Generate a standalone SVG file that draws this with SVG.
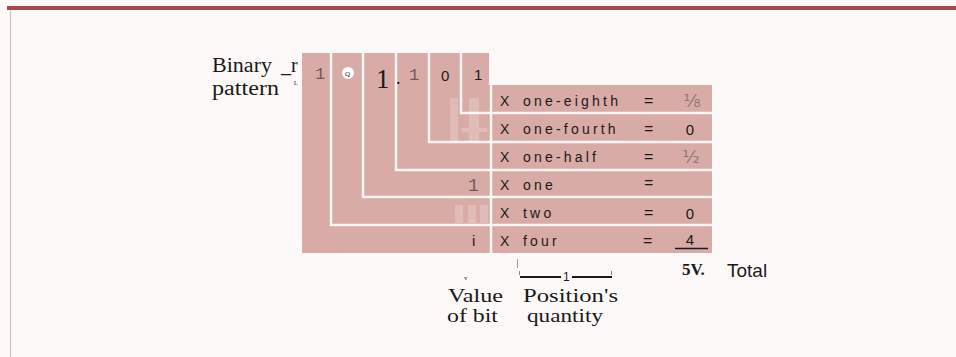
<svg xmlns="http://www.w3.org/2000/svg" width="956" height="357" viewBox="0 0 956 357">
<style>
.serif{font-family:"Liberation Serif","Times New Roman",serif;fill:#1a1a1a}
.sans{font-family:"Liberation Sans",Arial,sans-serif;fill:#1a1a1a}
.row{font-family:"Liberation Sans",Arial,sans-serif;font-size:14px;letter-spacing:3.2px;fill:#1a1a1a}
.eq{font-family:"Liberation Sans",Arial,sans-serif;font-size:16px;fill:#1a1a1a}
.val{font-family:"Liberation Sans",Arial,sans-serif;font-size:15px;fill:#1a1a1a;text-anchor:middle}
.frac{font-family:"DejaVu Sans",sans-serif;font-size:18px;fill:#8a7c7c;text-anchor:middle}
.wl{stroke:#fdf6f6;stroke-width:2.5;fill:none}
.grey{font-family:"Liberation Mono","Courier New",monospace;fill:#6e5a5a}
</style>
<rect width="956" height="357" fill="#fdf9f9"/>
<rect x="7" y="6" width="949" height="4" fill="#a44a48"/>
<line x1="10.5" y1="10" x2="10.5" y2="357" stroke="#d2c2c6" stroke-width="1.2"/>

<g id="panel">
<path d="M302,53 H489 V85 H712 V253 H302 Z" fill="#d9aba7"/>
<g opacity="0.2" fill="#ffffff">
<rect x="450" y="98" width="8" height="44"/>
<rect x="469" y="98" width="10" height="44"/>
<rect x="462" y="128" width="25" height="4"/>
<rect x="455" y="205" width="8" height="18"/>
<rect x="468" y="205" width="8" height="18"/>
<rect x="480" y="205" width="8" height="18"/>
</g>
</g>

<g id="connectors">
<path class="wl" d="M331,53 V225 H712"/>
<path class="wl" d="M363,53 V197 H712"/>
<path class="wl" d="M396,53 V170 H712"/>
<path class="wl" d="M429,53 V142 H712"/>
<path class="wl" d="M461,53 V113 H712"/>
<path class="wl" d="M491,85 V253"/>
</g>

<g id="label-binary">
<text class="serif" x="212" y="72" font-size="20" textLength="60" lengthAdjust="spacingAndGlyphs">Binary</text>
<text class="serif" x="212" y="95" font-size="20" textLength="67" lengthAdjust="spacingAndGlyphs">pattern</text>
<text class="serif" x="281" y="72" font-size="20">_r</text>
<text class="serif" x="294" y="85" font-size="6">L</text>
</g>

<g id="bits">
<text class="grey" x="315" y="79" font-size="17">1</text>
<ellipse cx="348" cy="73" rx="6" ry="6" fill="#ffffff"/>
<text class="serif" x="345" y="76" font-size="7">Q</text>
<text class="serif" x="376" y="88" font-size="27">1</text>
<text class="serif" x="396" y="84" font-size="18">.</text>
<text class="grey" x="409" y="80" font-size="17" fill="#7a6666">1</text>
<text class="sans" x="441" y="81" font-size="15">0</text>
<text class="sans" x="474" y="80" font-size="15">1</text>
</g>

<g id="row-eighth">
<text class="row" x="500" y="106">X</text>
<text class="row" x="523" y="106">one-eighth</text>
<text class="eq" x="644" y="106">=</text>
<text class="frac" x="692" y="107">⅛</text>
</g>
<g id="row-fourth">
<text class="row" x="500" y="134">X</text>
<text class="row" x="523" y="134">one-fourth</text>
<text class="eq" x="644" y="134">=</text>
<text class="val" x="690" y="135">0</text>
</g>
<g id="row-half">
<text class="row" x="500" y="162">X</text>
<text class="row" x="523" y="162">one-half</text>
<text class="eq" x="644" y="162">=</text>
<text class="frac" x="691" y="163">½</text>
</g>
<g id="row-one">
<text class="grey" x="468" y="191" font-size="18" fill="#6e6262">1</text>
<text class="row" x="500" y="190">X</text>
<text class="row" x="523" y="190">one</text>
<text class="eq" x="644" y="188">=</text>
</g>
<g id="row-two">
<text class="row" x="500" y="218">X</text>
<text class="row" x="523" y="218">two</text>
<text class="eq" x="644" y="218">=</text>
<text class="val" x="690" y="219">0</text>
</g>
<g id="row-four">
<text class="sans" x="472" y="246" font-size="15">i</text>
<text class="row" x="500" y="246">X</text>
<text class="row" x="523" y="246">four</text>
<text class="eq" x="643" y="246" font-size="18">=</text>
<text class="val" x="690" y="245">4</text>
<line x1="675" y1="248.5" x2="708" y2="248.5" stroke="#1a1a1a" stroke-width="1.6"/>
</g>

<g id="total">
<text class="serif" x="682" y="275" font-size="17" font-weight="bold">5V.</text>
<text class="sans" x="727" y="277" font-size="19" fill="#333333">Total</text>
</g>

<g id="label-value">
<text class="serif" x="464" y="280" font-size="7">v</text>
<text class="serif" x="448" y="302" font-size="19" textLength="55" lengthAdjust="spacingAndGlyphs">Value</text>
<text class="serif" x="447" y="322" font-size="19" textLength="51" lengthAdjust="spacingAndGlyphs">of bit</text>
</g>

<g id="label-position">
<line x1="517.5" y1="259" x2="517.5" y2="268" stroke="#888" stroke-width="0.8"/>
<line x1="520" y1="277" x2="561" y2="277" stroke="#1a1a1a" stroke-width="2"/>
<line x1="572" y1="277" x2="612" y2="277" stroke="#1a1a1a" stroke-width="2"/>
<line x1="519.5" y1="271" x2="519.5" y2="275" stroke="#666" stroke-width="0.8"/>
<line x1="611.5" y1="271" x2="611.5" y2="275" stroke="#666" stroke-width="0.8"/>
<text class="sans" x="563" y="281" font-size="12">1</text>
<text class="serif" x="523" y="302" font-size="19" textLength="95" lengthAdjust="spacingAndGlyphs">Position's</text>
<text class="serif" x="527" y="322" font-size="19" textLength="76" lengthAdjust="spacingAndGlyphs">quantity</text>
</g>
</svg>
